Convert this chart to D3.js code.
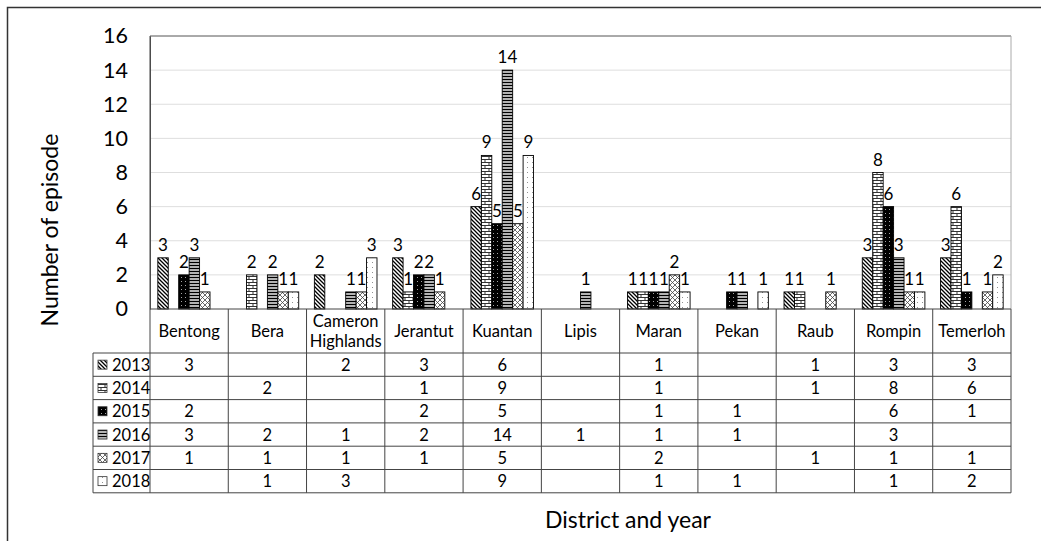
<!DOCTYPE html>
<html>
<head>
<meta charset="utf-8">
<script src="https://cdn.jsdelivr.net/npm/d3@7"></script>
<style>
  body { margin: 0; background: #fff; }
  text { font-family: Lato, "Open Sans", sans-serif; fill: #000; }
</style>
</head>
<body>
<script>
const years = ["2013", "2014", "2015", "2016", "2017", "2018"]
const districts = ["Bentong", "Bera", "Cameron Highlands", "Jerantut", "Kuantan", "Lipis",
  "Maran", "Pekan", "Raub", "Rompin", "Temerloh"]
const v2013 = [3, null, 2, 3, 6, null, 1, null, 1, 3, 3]
const v2014 = [null, 2, null, 1, 9, null, 1, null, 1, 8, 6]
const v2015 = [2, null, null, 2, 5, null, 1, 1, null, 6, 1]
const v2016 = [3, 2, 1, 2, 14, 1, 1, 1, null, 3, null]
const v2017 = [1, 1, 1, 1, 5, null, 2, null, 1, 1, 1]
const v2018 = [null, 1, 3, null, 9, null, 1, 1, null, 1, 2]
const yTicks = [0, 2, 4, 6, 8, 10, 12, 14, 16]

const series = [v2013, v2014, v2015, v2016, v2017, v2018]

const width = 1041, height = 541
const x0 = 150, x1 = 1011, yTop = 36, yZero = 309
const rowH = 23.3, headerBottom = 353, legendLeft = 93

const svg = d3.select("body").append("svg")
  .attr("width", width)
  .attr("height", height)

// patterns, one per year
const defs = svg.append("defs")
const pat = (id, w, h) => defs.append("pattern")
  .attr("id", id).attr("patternUnits", "userSpaceOnUse")
  .attr("width", w).attr("height", h)

let p = pat("p2013", 4, 4)
p.append("rect").attr("width", 4).attr("height", 4).attr("fill", "#fff")
p.append("path").attr("d", "M-1,-1L5,5M-1,3L1,5M3,-1L5,1")
  .attr("stroke", "#000").attr("stroke-width", 1.3)

p = pat("p2014", 8, 6)
p.append("rect").attr("width", 8).attr("height", 6).attr("fill", "#fff")
p.append("path").attr("d", "M0,0.5H8M0,3.5H8M1,0.5V3.5M5,3.5V6.5")
  .attr("stroke", "#333").attr("stroke-width", 1).attr("fill", "none")

p = pat("p2015", 4, 4)
p.append("rect").attr("width", 4).attr("height", 4).attr("fill", "#000")
p.append("rect").attr("x", 1).attr("y", 1).attr("width", 0.8).attr("height", 0.8).attr("fill", "#fff")

p = pat("p2016", 4, 3)
p.append("rect").attr("width", 4).attr("height", 3).attr("fill", "#fff")
p.append("path").attr("d", "M0,1.5H4").attr("stroke", "#000").attr("stroke-width", 1.6)

p = pat("p2017", 5, 5)
p.append("rect").attr("width", 5).attr("height", 5).attr("fill", "#fff")
p.append("path").attr("d", "M0,0L5,5M5,0L0,5")
  .attr("stroke", "#444").attr("stroke-width", 0.8)

p = pat("p2018", 5, 5)
p.append("rect").attr("width", 5).attr("height", 5).attr("fill", "#fff")
p.append("rect").attr("x", 2).attr("y", 2).attr("width", 0.9).attr("height", 0.9).attr("fill", "#777")

// outer frame
svg.append("rect")
  .attr("x", 7.5).attr("y", 7.5).attr("width", 1040).attr("height", 540)
  .attr("fill", "none").attr("stroke", "#333").attr("stroke-width", 1.5)

const x = d3.scaleBand().domain(districts).range([x0, x1]).paddingInner(0).paddingOuter(0)
const xs = d3.scaleBand().domain(years).range([0, x.bandwidth()]).paddingInner(0).paddingOuter(0.75)
const y = d3.scaleLinear().domain([0, 16]).range([yZero, yTop])

// gridlines
svg.append("g").selectAll("line")
  .data(yTicks.filter(t => t > 0 && t < 16))
  .enter().append("line")
  .attr("x1", x0).attr("x2", x1)
  .attr("y1", d => y(d)).attr("y2", d => y(d))
  .attr("stroke", "#dedede").attr("stroke-width", 1)

// plot frame
svg.append("line").attr("x1", x0).attr("x2", x1).attr("y1", yTop).attr("y2", yTop)
  .attr("stroke", "#555")
svg.append("line").attr("x1", x1).attr("x2", x1).attr("y1", yTop).attr("y2", yZero)
  .attr("stroke", "#aaa")

// y axis
const yAxis = svg.append("g")
  .attr("transform", `translate(${x0},0)`)
  .call(d3.axisLeft(y).tickValues(yTicks).tickSize(0).tickPadding(22))
yAxis.select(".domain").attr("stroke", "#555")
yAxis.selectAll("text").style("font-size", "21.5px").style("font-family", "Lato, sans-serif")

svg.append("text")
  .attr("transform", `translate(58,${230}) rotate(-90)`)
  .attr("text-anchor", "middle")
  .style("font-size", "23px")
  .text("Number of episode")

// bars
const bars = []
series.forEach((vals, i) => {
  vals.forEach((v, j) => {
    if (v != null) bars.push({ year: years[i], district: districts[j], value: v })
  })
})

svg.append("g").selectAll("rect")
  .data(bars)
  .enter().append("rect")
  .attr("x", d => x(d.district) + xs(d.year))
  .attr("y", d => y(d.value))
  .attr("width", xs.bandwidth())
  .attr("height", d => yZero - y(d.value))
  .attr("fill", d => `url(#p${d.year})`)
  .attr("stroke", "#000").attr("stroke-width", 0.9)

svg.append("g").selectAll("text")
  .data(bars)
  .enter().append("text")
  .attr("x", d => x(d.district) + xs(d.year) + xs.bandwidth() / 2)
  .attr("y", d => y(d.value) - 7)
  .attr("text-anchor", "middle")
  .style("font-size", "17px")
  .text(d => d.value)

// data table
const table = svg.append("g")
const tableBottom = headerBottom + rowH * years.length
const lineCol = "#444"

// verticals
districts.concat(["end"]).forEach((d, i) => {
  const xx = i < districts.length ? x(d) : x1
  table.append("line").attr("x1", xx).attr("x2", xx)
    .attr("y1", i === 0 ? yTop : yZero).attr("y2", tableBottom)
    .attr("stroke", lineCol)
})
table.append("line").attr("x1", legendLeft).attr("x2", legendLeft)
  .attr("y1", headerBottom).attr("y2", tableBottom).attr("stroke", lineCol)

// horizontals
table.append("line").attr("x1", x0).attr("x2", x1).attr("y1", yZero).attr("y2", yZero)
  .attr("stroke", lineCol)
d3.range(years.length + 1).forEach(i => {
  const yy = headerBottom + i * rowH
  table.append("line").attr("x1", legendLeft).attr("x2", x1).attr("y1", yy).attr("y2", yy)
    .attr("stroke", lineCol)
})

// header names
districts.forEach(d => {
  const words = d === "Cameron Highlands" ? ["Cameron", "Highlands"] : [d]
  const cx = x(d) + x.bandwidth() / 2
  const mid = (yZero + headerBottom) / 2
  words.forEach((w, k) => {
    table.append("text")
      .attr("x", cx)
      .attr("y", mid + 6 + (k - (words.length - 1) / 2) * 20)
      .attr("text-anchor", "middle")
      .style("font-size", "16.5px")
      .text(w)
  })
})

// legend cells and values
years.forEach((yr, i) => {
  const yy = headerBottom + i * rowH
  table.append("rect")
    .attr("x", legendLeft + 5).attr("y", yy + rowH / 2 - 4.5)
    .attr("width", 9).attr("height", 9)
    .attr("fill", `url(#p${yr})`).attr("stroke", "#333").attr("stroke-width", 0.8)
  table.append("text")
    .attr("x", legendLeft + 19).attr("y", yy + rowH / 2 + 6)
    .style("font-size", "16.5px")
    .text(yr)
  series[i].forEach((v, j) => {
    if (v == null) return
    table.append("text")
      .attr("x", x(districts[j]) + x.bandwidth() / 2)
      .attr("y", yy + rowH / 2 + 6)
      .attr("text-anchor", "middle")
      .style("font-size", "16.5px")
      .text(v)
  })
})

svg.append("text")
  .attr("x", 628).attr("y", 528)
  .attr("text-anchor", "middle")
  .style("font-size", "23px")
  .text("District and year")
</script>
</body>
</html>
